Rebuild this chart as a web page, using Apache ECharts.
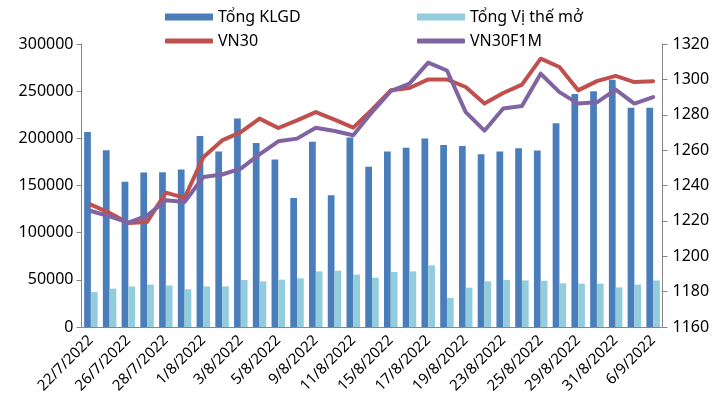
<!DOCTYPE html>
<html><head><meta charset="utf-8">
<script src="https://cdn.jsdelivr.net/npm/echarts@6/dist/echarts.min.js"></script>
<style>html,body{margin:0;padding:0;background:#fff}#c{width:719px;height:404px}</style>
</head><body><div id="c"></div>
<script>
const categories = ['22/7/2022','25/7/2022','26/7/2022','27/7/2022','28/7/2022','29/7/2022','1/8/2022','2/8/2022','3/8/2022','4/8/2022','5/8/2022','8/8/2022','9/8/2022','10/8/2022','11/8/2022','12/8/2022','15/8/2022','16/8/2022','17/8/2022','18/8/2022','19/8/2022','22/8/2022','23/8/2022','24/8/2022','25/8/2022','26/8/2022','29/8/2022','30/8/2022','31/8/2022','5/9/2022','6/9/2022'];
const tongKLGD = [206700,187300,154000,163700,164000,167000,202500,186000,221000,195000,177500,136700,196500,139600,201000,170000,186000,190000,199700,193000,192000,183000,186000,189400,187000,216000,247000,250000,262000,232500,232500];
const tongViTheMo = [37000,40700,43000,45000,44000,40000,43000,43000,49800,48400,50200,51600,59000,59700,55500,52300,58300,59000,65400,30800,41700,48400,49800,49400,49000,46300,46000,46000,42000,45000,49400];
const vn30 = [1229.2,1224.5,1218.8,1219.4,1236,1233,1256,1265.5,1270.2,1277.8,1272.5,1276.8,1281.5,1277.2,1272.7,1282.9,1293.8,1295.1,1300,1300,1295.7,1286.3,1292.3,1297,1311.7,1307,1293.8,1299,1302,1298.5,1299];
const vn30f1m = [1225.6,1222.6,1219,1223,1231.6,1230.7,1244.8,1246.2,1249.5,1257.6,1265,1266.5,1272.7,1270.8,1268.4,1281.5,1293.4,1297.6,1309.5,1305,1281.5,1271,1283.5,1285,1303.2,1292.8,1286.3,1287,1294.2,1286.3,1290];

const FONT = 'Noto Sans';
const axisColor = '#868686';
const txt = {fontFamily: FONT, fontSize: 16, color: '#000'};
function lg(name, left, top, icon, h) {
  return {data:[name], left:left, top:top, padding:0, itemWidth:48, itemHeight:h, icon:icon, textStyle:Object.assign({}, txt), itemGap:0};
}
const plain = v => String(v);
const chart = echarts.init(document.getElementById('c'), null, {renderer:'canvas'});
chart.setOption({
  animation:false,
  backgroundColor:'#fff',
  legend:[
    lg('Tổng KLGD',165,9,'rect',7),
    lg('Tổng Vị thế mở',417,9,'rect',7),
    lg('VN30',165,33,'roundRect',5),
    lg('VN30F1M',417,33,'roundRect',5)
  ],
  grid:{left:81.5, right:56.5, top:44, bottom:77},
  xAxis:{type:'category', data:categories, boundaryGap:true,
    axisLine:{lineStyle:{color:axisColor}},
    axisTick:{interval:0, length:5, lineStyle:{color:axisColor}},
    axisLabel:{interval:1, rotate:45, margin:11, fontFamily:FONT, fontSize:15, color:'#000'}},
  yAxis:[
    {type:'value', min:0, max:300000, interval:50000, splitLine:{show:false},
      axisLine:{show:true, lineStyle:{color:axisColor}},
      axisTick:{show:true, length:5, lineStyle:{color:axisColor}},
      axisLabel:{margin:8, formatter:plain, fontFamily:FONT, fontSize:16, color:'#000'}},
    {type:'value', min:1160, max:1320, interval:20, splitLine:{show:false},
      axisLine:{show:true, lineStyle:{color:axisColor}},
      axisTick:{show:true, length:5, lineStyle:{color:axisColor}},
      axisLabel:{margin:10, formatter:plain, fontFamily:FONT, fontSize:16, color:'#000'}}
  ],
  series:[
    {name:'Tổng KLGD', type:'bar', data:tongKLGD, barGap:'0%', barCategoryGap:'28%',
      itemStyle:{color:'#4A7EBB'}},
    {name:'Tổng Vị thế mở', type:'bar', data:tongViTheMo,
      itemStyle:{color:'#93CDDD'}},
    {name:'VN30', type:'line', yAxisIndex:1, data:vn30, showSymbol:false, symbol:'none',
      lineStyle:{color:'#C0504D', width:4, cap:'round', join:'round'}, itemStyle:{color:'#C0504D'}, z:5},
    {name:'VN30F1M', type:'line', yAxisIndex:1, data:vn30f1m, showSymbol:false, symbol:'none',
      lineStyle:{color:'#8064A2', width:4, cap:'round', join:'round'}, itemStyle:{color:'#8064A2'}, z:6}
  ]
});
</script></body></html>
